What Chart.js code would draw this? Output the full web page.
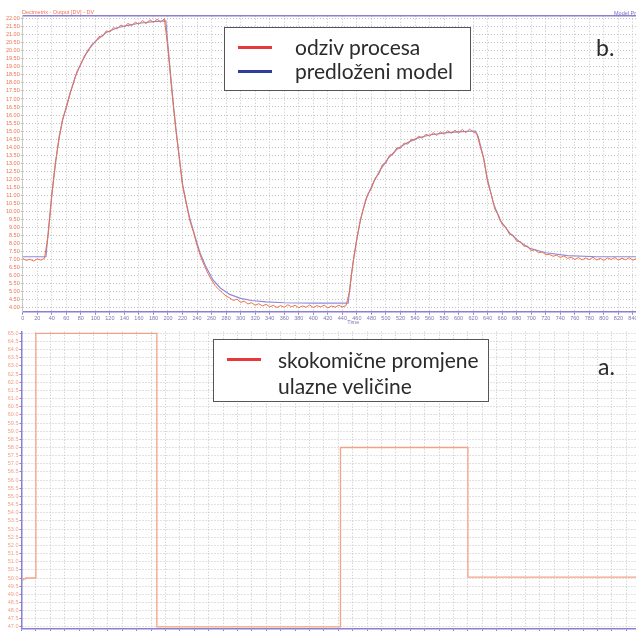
<!DOCTYPE html>
<html>
<head>
<meta charset="utf-8">
<script src="https://cdn.jsdelivr.net/npm/chart.js@4"></script>
<style>
  body { margin: 0; width: 636px; height: 631px; overflow: hidden; position: relative; background: #fff; font-family: Lato, sans-serif; }
  .panel { position: absolute; left: 0; width: 700px; }
  .tiny { position: absolute; font-family: "Liberation Sans", sans-serif; font-size: 5.5px; white-space: nowrap; }
  .legend { position: absolute; border: 1.5px solid #555; background: #fff; box-sizing: border-box; }
  .mark { position: absolute; height: 3px; }
  .ltxt { position: absolute; font-size: 21px; color: #2b2b2b; white-space: nowrap; line-height: 1; }
  .tag { position: absolute; font-size: 23px; color: #2b2b2b; line-height: 1; }
</style>
</head>
<body>
<div class="panel" style="top:0; height:330px"><canvas id="resp-chart"></canvas></div>
<div class="panel" style="top:326px; height:340px"><canvas id="input-chart"></canvas></div>

<div class="tiny" style="left:22px; top:9px; color:#f07050">Decimetrix - Output [DV] - DV</div>
<div class="tiny" style="left:614px; top:10px; color:#7a6cc0">Model Predicted</div>

<div class="legend" style="left:224px; top:27px; width:247px; height:64px">
  <div class="mark" style="left:13px; top:18px; width:34px; background:#e8393a"></div>
  <div class="mark" style="left:13px; top:42px; width:34px; background:#2e3d99"></div>
  <div class="ltxt" style="left:70px; top:8px">odziv procesa</div>
  <div class="ltxt" style="left:70px; top:32px">predloženi model</div>
</div>
<div class="tag" style="left:596px; top:36px">b.</div>

<div class="legend" style="left:213px; top:339px; width:276px; height:63px">
  <div class="mark" style="left:13px; top:18px; width:34px; background:#e8393a"></div>
  <div class="ltxt" style="left:64px; top:9px">skokomične promjene</div>
  <div class="ltxt" style="left:64px; top:35px">ulazne veličine</div>
</div>
<div class="tag" style="left:598px; top:355px">a.</div>

<script>
// top panel: process response (sampled every 5 s) and model
const RESP_STEP = 5;
const respValues = [
  7.05, 6.92, 7.0, 6.88, 7.02, 6.94, 7.05, 8.5, 10.95, 13.0,
  14.5, 15.75, 16.45, 17.35, 18.0, 18.75, 19.15, 19.7, 19.98, 20.4,
  20.55, 20.9, 20.92, 21.25, 21.18, 21.45, 21.38, 21.62, 21.5, 21.72,
  21.58, 21.8, 21.66, 21.9, 21.7, 21.95, 21.78, 21.98, 21.8, 22.02,
  20.1, 17.6, 15.4, 13.5, 11.6, 10.5, 9.4, 8.7, 7.85, 7.15,
  6.6, 6.1, 5.7, 5.35, 5.1, 4.9, 4.7, 4.58, 4.42, 4.5,
  4.3, 4.38, 4.2, 4.28, 4.12, 4.22, 4.08, 4.18, 4.02, 4.12,
  3.98, 4.1, 4.0, 4.15, 4.03, 4.12, 3.97, 4.08, 4.0, 4.14,
  3.98, 4.1, 4.02, 4.13, 3.96, 4.08, 4.0, 4.12, 4.02, 4.1,
  5.0, 6.9, 8.25, 9.5, 10.3, 11.05, 11.4, 12.05, 12.3, 12.9,
  13.0, 13.5, 13.55, 13.95, 13.92, 14.25, 14.18, 14.5, 14.42, 14.68,
  14.55, 14.8, 14.68, 14.9, 14.72, 14.95, 14.8, 15.02, 14.85, 15.05,
  14.88, 15.1, 14.9, 15.12, 14.95, 14.85, 14.0, 13.2, 11.8, 11.05,
  10.1, 9.75, 9.15, 9.0, 8.55, 8.5, 8.12, 8.1, 7.8, 7.82,
  7.52, 7.6, 7.4, 7.45, 7.28, 7.3, 7.18, 7.25, 7.1, 7.2,
  7.05, 7.12, 6.98, 7.1, 6.95, 7.08, 6.97, 7.12, 6.95, 7.05,
  6.92, 7.08, 6.98, 7.1, 6.94, 7.06, 6.96, 7.09, 6.93, 7.05,
  6.97, 7.08, 6.95
];

const modelTime = [0, 32, 36, 40, 45, 50, 55, 60, 66, 72, 80, 90, 100, 115, 130, 145, 160, 180, 197, 200,
  204, 208, 212, 216, 220, 225, 230, 237, 244, 252, 262, 272, 285, 300, 315, 335, 360, 400, 448, 452,
  456, 460, 464, 468, 472, 482, 492, 503, 515, 528, 542, 560, 584, 606, 623, 627, 634, 639, 648, 657,
  671, 684, 698, 720, 750, 790, 860];
const modelValues = [7.15, 7.15, 9.1, 11.0, 12.95, 14.6, 15.7, 16.5, 17.45, 18.35, 19.2, 20.05, 20.6, 21.15, 21.45, 21.6, 21.73, 21.83, 21.88, 20.3,
  18.3, 16.4, 14.7, 13.2, 11.7, 10.55, 9.55, 8.45, 7.4, 6.55, 5.7, 5.2, 4.8, 4.55, 4.42, 4.33, 4.28, 4.26, 4.25, 5.9,
  7.14, 8.3, 9.23, 10.0, 10.69, 11.73, 12.56, 13.29, 13.86, 14.23, 14.54, 14.75, 14.9, 14.96, 15.0, 14.64, 13.4, 12.14, 10.48, 9.44,
  8.6, 8.08, 7.67, 7.4, 7.22, 7.15, 7.15];

// bottom panel: step changes of the input
const inputTime = [0, 3, 6, 20, 188, 443, 620, 910];
const inputValues = [49.9, 49.95, 50.0, 65, 47, 58, 50.05, 50.05];

const X_MAX = 910;
const PURPLE = "#8a7fd0";
const GRID = "#c4c4c4";
const DOTS = [1, 2];

function onlyHalfSteps(scale) {
  scale.ticks = scale.ticks.filter(t => Math.abs(t.value * 2 - Math.round(t.value * 2)) < 1e-6);
}

const tinyFont = { family: "Liberation Sans", size: 5.5 };

// === Response chart ===
new Chart(document.getElementById("resp-chart"), {
  type: "line",
  data: {
    datasets: [{
      label: "odziv procesa",
      data: respValues.map((v, i) => ({ x: i * RESP_STEP, y: v })),
      borderColor: "#f07048",
      borderWidth: 1,
      pointRadius: 0,
      order: 1
    }, {
      label: "predloženi model",
      data: modelTime.map((t, i) => ({ x: t, y: modelValues[i] })),
      borderColor: "#8c8cdc",
      borderWidth: 1.2,
      pointRadius: 0,
      order: 2
    }]
  },
  options: {
    responsive: true,
    maintainAspectRatio: false,
    animation: false,
    layout: { padding: { top: 15.7, bottom: 4.3, left: 0, right: 16.2 } },
    plugins: { legend: { display: false }, tooltip: { enabled: false } },
    scales: {
      x: {
        type: "linear", min: 0, max: X_MAX,
        ticks: { stepSize: 20, autoSkip: false, maxRotation: 0, padding: 0, color: "#7a78b0", font: tinyFont, includeBounds: false },
        grid: { color: GRID, tickLength: 3, tickColor: PURPLE },
        border: { color: PURPLE, width: 1.5, dash: DOTS },
        title: { display: true, text: "Time", color: "#7a78b0", font: tinyFont, padding: 0 },
        afterFit: s => { s.height = 14; }
      },
      xTop: {
        type: "linear", position: "top", min: 0, max: X_MAX,
        ticks: { display: false },
        grid: { color: "rgba(0,0,0,0)", drawTicks: false },
        border: { color: PURPLE, width: 1.5 },
        afterFit: s => { s.height = 0; }
      },
      y: {
        min: 3.72, max: 22.2,
        ticks: { stepSize: 0.5, includeBounds: false, padding: 1, color: "#f07050", font: tinyFont, autoSkip: false, callback: v => v.toFixed(2) },
        grid: { color: GRID, tickLength: 2 },
        border: { color: "#c8c8c8", dash: DOTS },
        afterBuildTicks: onlyHalfSteps,
        afterFit: s => { s.width = 22.7; }
      }
    }
  }
});

// === Input chart ===
new Chart(document.getElementById("input-chart"), {
  type: "line",
  data: {
    datasets: [{
      label: "skokomične promjene ulazne veličine",
      data: inputTime.map((t, i) => ({ x: t, y: inputValues[i] })),
      borderColor: "#f4a286",
      borderWidth: 1.3,
      pointRadius: 0,
      stepped: true
    }]
  },
  options: {
    responsive: true,
    maintainAspectRatio: false,
    animation: false,
    layout: { padding: { top: 5.7, bottom: 17.1, left: 0, right: 23.3 } },
    plugins: { legend: { display: false }, tooltip: { enabled: false } },
    scales: {
      x: {
        type: "linear", min: 0, max: X_MAX,
        ticks: { stepSize: 20, autoSkip: false, maxRotation: 0, padding: 0, color: "#7a78b0", font: tinyFont, includeBounds: false },
        grid: { color: GRID, tickLength: 3, tickColor: PURPLE },
        border: { color: PURPLE, width: 1.5, dash: DOTS },
        afterFit: s => { s.height = 20; }
      },
      y: {
        min: 46.88, max: 65.1,
        ticks: { stepSize: 0.5, includeBounds: false, padding: 1, color: "#f4a08a", font: tinyFont, autoSkip: false },
        grid: { color: GRID, tickLength: 2, tickColor: PURPLE },
        border: { color: PURPLE, width: 1.5, dash: DOTS },
        afterBuildTicks: onlyHalfSteps,
        afterFit: s => { s.width = 21.5; }
      }
    }
  }
});
</script>
</body>
</html>
